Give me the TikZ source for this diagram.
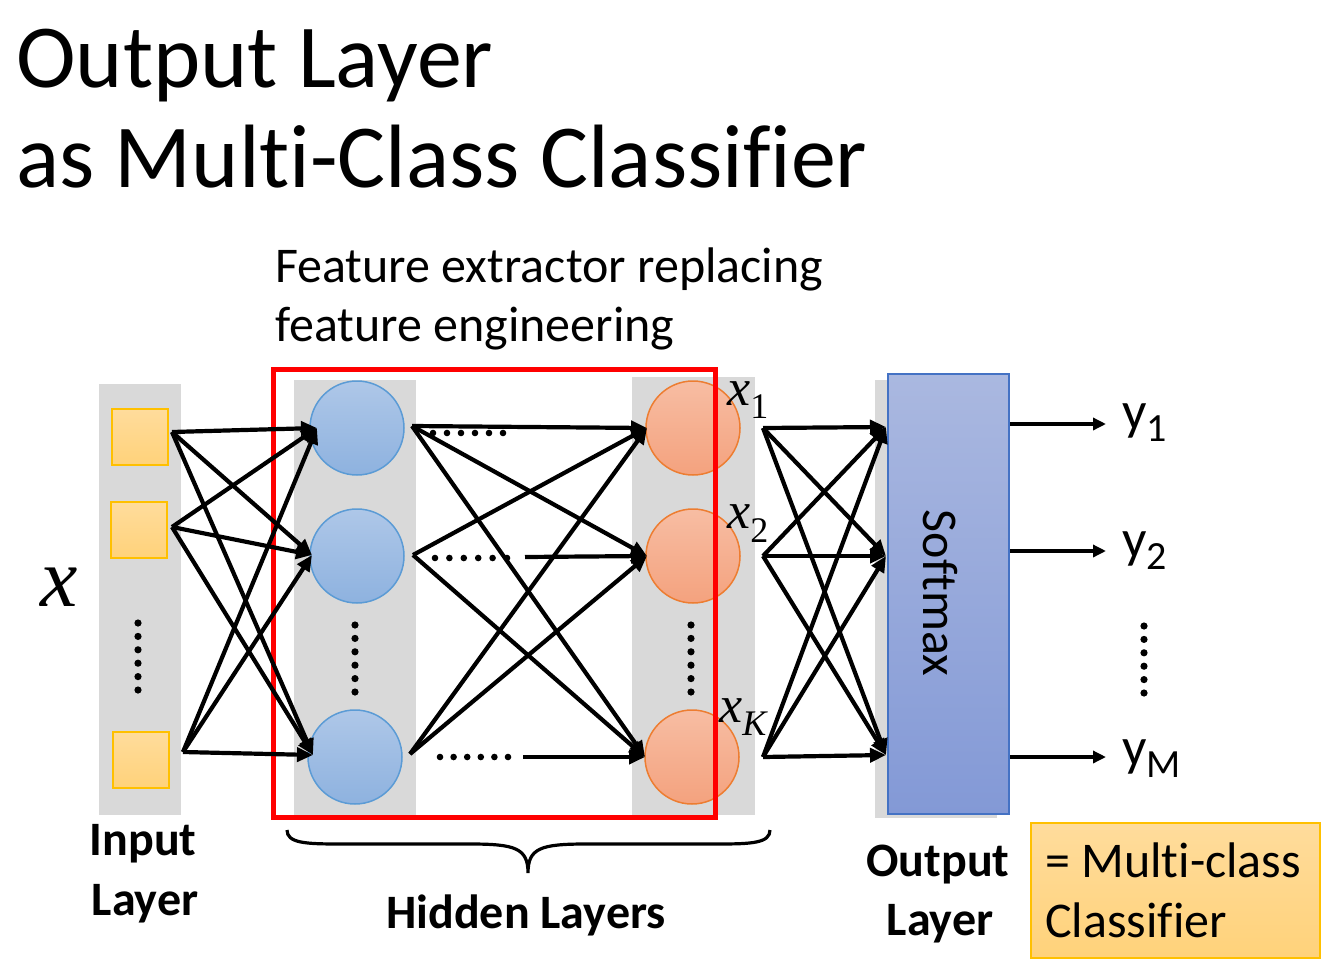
\documentclass[tikz,border=0pt]{standalone}
\usepackage{fontspec}
\setmainfont{Carlito}[Ligatures=NoCommon]
\newfontfamily\serifit{Liberation Serif}
\usetikzlibrary{arrows.meta}
\definecolor{colgray}{HTML}{D9D9D9}
\definecolor{sqborder}{HTML}{FFC000}
\definecolor{sqtop}{HTML}{FFDC9C}
\definecolor{sqbot}{HTML}{FFD27A}
\definecolor{bluetop}{HTML}{AEC7E8}
\definecolor{bluebot}{HTML}{8EB2DF}
\definecolor{blueborder}{HTML}{5B9BD5}
\definecolor{ortop}{HTML}{F7BDA3}
\definecolor{orbot}{HTML}{F4A27E}
\definecolor{orborder}{HTML}{ED7D31}
\definecolor{smtop}{HTML}{AAB8E0}
\definecolor{smbot}{HTML}{8399D6}
\definecolor{smborder}{HTML}{4472C4}
\definecolor{redbox}{HTML}{FF0000}
\begin{document}
\begin{tikzpicture}[x=1pt,y=-1pt,
  col/.style={fill=colgray, inner sep=0, outer sep=0},
  insq/.style={draw=sqborder, line width=2.5pt, top color=sqtop, bottom color=sqbot, minimum width=56pt, minimum height=56pt, inner sep=0},
  bluec/.style={circle, draw=blueborder, line width=1.5pt, top color=bluetop, bottom color=bluebot, minimum size=94pt, inner sep=0},
  orc/.style={circle, draw=orborder, line width=1.5pt, top color=ortop, bottom color=orbot, minimum size=94pt, inner sep=0},
  conn/.style={line width=4.2pt, -{Triangle[length=16pt,width=14pt]}},
  outarr/.style={line width=3.4pt, -{Triangle[length=13pt,width=12pt]}},
  lbl/.style={anchor=base, inner sep=0, font=\fontsize{48}{48}\selectfont\bfseries},
  txt/.style={anchor=base west, inner sep=0, font=\fontsize{50}{50}\selectfont},
]
\useasboundingbox (0,0) rectangle (1321,960);

% title
\node[anchor=base west, inner sep=0, font=\fontsize{90}{90}\selectfont] (t1) at (16,88) {Output Layer};
\node[anchor=base west, inner sep=0, font=\fontsize{90}{90}\selectfont] (t2) at (16,187) {as Multi-Class Classifier};
\node[txt] (f1) at (275,282) {Feature extractor replacing};
\node[txt] (f2) at (275,341) {feature engineering};

% gray columns
\node[col, minimum width=82pt, minimum height=431pt] (cin) at (140,599.5) {};
\node[col, minimum width=122pt, minimum height=436pt] (ch1) at (355,598) {};
\node[col, minimum width=123pt, minimum height=438pt] (ch2) at (693.5,596) {};
\node[col, minimum width=122pt, minimum height=438pt] (cout) at (936,599) {};

% input squares
\node[insq] (i1) at (140,437) {};
\node[insq] (i2) at (139,530) {};
\node[insq] (i3) at (141,760) {};

% hidden circles
\node[bluec] (h1) at (357,428) {};
\node[bluec] (h2) at (357,556) {};
\node[bluec] (h3) at (355,757) {};
\node[orc] (o1) at (693,428) {};
\node[orc] (o2) at (693,556) {};
\node[orc] (o3) at (692,757) {};

% softmax box
\node[draw=smborder, line width=2pt, top color=smtop, bottom color=smbot, minimum width=121pt, minimum height=440pt, inner sep=0] (sm) at (948.5,594) {};
\node[rotate=-90, inner sep=0, font=\fontsize{50}{50}\selectfont] (smt) at (940,593) {Softmax};

% red rectangle
\node[draw=redbox, line width=5pt, minimum width=442pt, minimum height=448pt, inner sep=0] (red) at (494,593) {};

% vertical dots
\foreach \k in {0,...,5} {
  \fill (138,623+13.4*\k) circle (3.6pt);
  \fill (355,625+13.4*\k) circle (3.6pt);
  \fill (691,625+13.4*\k) circle (3.6pt);
  \fill (1144,626+13.4*\k) circle (3.6pt);
}
% horizontal dots
\foreach \k in {0,...,5} {
  \fill (433+14*\k,433) circle (3.3pt);
  \fill (435+14.4*\k,558) circle (3.3pt);
  \fill (440+13.6*\k,757) circle (3.3pt);
}

% coordinates
\coordinate (in1) at (172,432);
\coordinate (in2) at (172,527);
\coordinate (in3) at (183,752);
\coordinate (h1in) at (317,428);
\coordinate (h2in) at (312,555);
\coordinate (h3in) at (313,755);
\coordinate (h1out) at (412,426);
\coordinate (h2out) at (413,555);
\coordinate (h3out) at (410,754);
\coordinate (m2) at (525,557);
\coordinate (m3) at (523,757);
\coordinate (o1in) at (647,428);
\coordinate (o2in) at (647,556);
\coordinate (o3in) at (645,757);
\coordinate (o1out) at (763,428);
\coordinate (o2out) at (763,556);
\coordinate (o3out) at (763,757);
\coordinate (s1in) at (886,427);
\coordinate (s2in) at (886,556);
\coordinate (s3in) at (886,755);
\coordinate (s1out) at (1010,424);
\coordinate (s2out) at (1010,551);
\coordinate (s3out) at (1010,757);
\coordinate (ye1) at (1106,424);
\coordinate (ye2) at (1106,551);
\coordinate (ye3) at (1106,757);

% input -> hidden 1
\foreach \a in {in1,in2,in3} \foreach \b in {h1in,h2in,h3in} \draw[conn] (\a) -- (\b);
% hidden 1 -> hidden 2
\draw[conn] (h1out) -- (o1in);
\draw[conn] (h1out) -- (o2in);
\draw[conn] (h1out) -- (o3in);
\draw[conn] (h2out) -- (o1in);
\draw[conn] (m2) -- (o2in);
\draw[conn] (h2out) -- (o3in);
\draw[conn] (h3out) -- (o1in);
\draw[conn] (h3out) -- (o2in);
\draw[conn] (m3) -- (o3in);
% hidden 2 -> softmax
\foreach \a in {o1out,o2out,o3out} \foreach \b in {s1in,s2in,s3in} \draw[conn] (\a) -- (\b);
% softmax -> outputs
\draw[outarr] (s1out) -- (ye1);
\draw[outarr] (s2out) -- (ye2);
\draw[outarr] (s3out) -- (ye3);

% x labels
\node[anchor=base west, inner sep=0] (xin) at (40,606) {\fontsize{84}{84}\selectfont\serifit\itshape x};
\node[anchor=base west, inner sep=0] (x1) at (727,405) {\serifit{\fontsize{52}{52}\selectfont\itshape x}\raisebox{-13pt}{\fontsize{36}{36}\selectfont 1}};
\node[anchor=base west, inner sep=0] (x2) at (727,528) {\serifit{\fontsize{52}{52}\selectfont\itshape x}\raisebox{-14pt}{\fontsize{36}{36}\selectfont 2}};
\node[anchor=base west, inner sep=0] (xk) at (719,722) {\serifit{\fontsize{52}{52}\selectfont\itshape x}\raisebox{-13pt}{\fontsize{36}{36}\selectfont\itshape K}};

% y labels
\node[anchor=base west, inner sep=0] (y1) at (1122,429) {{\fontsize{54}{54}\selectfont y}\raisebox{-12pt}{\fontsize{40}{40}\selectfont 1}};
\node[anchor=base west, inner sep=0] (y2) at (1122,557) {{\fontsize{54}{54}\selectfont y}\raisebox{-12pt}{\fontsize{40}{40}\selectfont 2}};
\node[anchor=base west, inner sep=0] (y3) at (1122,765) {{\fontsize{54}{54}\selectfont y}\raisebox{-12pt}{\fontsize{40}{40}\selectfont M}};

% brace
\draw[line width=3.2pt] (287,830) .. controls (287,843) and (305,844) .. (340,844) -- (470,844) .. controls (515,844) and (528,848) .. (528,873)
  .. controls (528,848) and (541,844) .. (586,844) -- (718,844) .. controls (752,844) and (770,843) .. (770,830);

% layer labels
\node[lbl] (lin1) at (143,855) {Input};
\node[lbl] (lin2) at (145,915) {Layer};
\node[lbl] (lhid) at (526,928) {Hidden Layers};
\node[lbl] (lout1) at (938,876) {Output};
\node[lbl] (lout2) at (940,935) {Layer};

% multi-class box
\node[draw=sqborder, line width=2.5pt, top color=sqtop, bottom color=sqbot, minimum width=289pt, minimum height=135pt, inner sep=0] (mc) at (1175.5,890.5) {};
\node[txt] (mc1) at (1045,877) {= Multi-class};
\node[txt] (mc2) at (1045,937) {Classifier};
\end{tikzpicture}
\end{document}
